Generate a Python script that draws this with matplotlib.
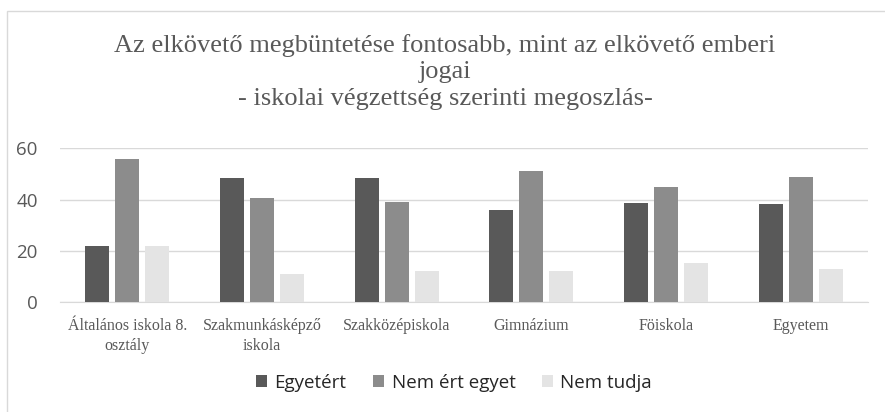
import numpy as np
import matplotlib.pyplot as plt
import matplotlib.patches as patches

categories = ['Általános iskola 8.\nosztály', 'Szakmunkásképző\niskola', 'Szakközépiskola',
              'Gimnázium', 'Föiskola', 'Egyetem']
series_names = ['Egyetért', 'Nem ért egyet', 'Nem tudja']
egyetert = [22, 48.3, 48.3, 36, 38.6, 38.2]
nem_ert = [55.7, 40.5, 39.2, 51.3, 45.0, 48.7]
nem_tudja = [22, 10.9, 12.3, 12.3, 15.3, 13.0]
colors = ['#595959', '#8c8c8c', '#e4e4e4']

fig = plt.figure(figsize=(8.85, 4.12), dpi=100)
W, H = 885, 412

# outer chart border (only top and left visible in crop)
fig.patches.append(patches.Rectangle((7 / W, -0.1), 2.0, 1 - 11 / H + 0.1,
                                     transform=fig.transFigure, fill=False,
                                     edgecolor='#d9d9d9', linewidth=1))

ax = fig.add_axes([60 / W, 1 - 302.3 / H, 808 / W, 154 / H * 1.0])
x = np.arange(len(categories))
width = 0.178
step = 0.222
for i, (vals, name) in enumerate(zip([egyetert, nem_ert, nem_tudja], series_names)):
    ax.bar(x + (i - 1) * step, vals, width, color=colors[i], label=name, zorder=3)

ax.set_ylim(0, 60)
ax.set_xlim(-0.5, len(categories) - 0.5)
ax.set_yticks([0, 20, 40, 60])
ax.yaxis.grid(True, color='#d9d9d9', linewidth=1, zorder=0)
ax.set_axisbelow(True)
for s in ['top', 'right', 'left']:
    ax.spines[s].set_visible(False)
ax.spines['bottom'].set_color('#d9d9d9')
ax.tick_params(axis='both', length=0)
ax.tick_params(axis='y', labelsize=13.5, labelcolor='#595959', pad=16)
for lbl in ax.get_yticklabels():
    lbl.set_family('Open Sans')
ax.set_xticks(x)
ax.set_xticklabels(categories, family='Liberation Serif', fontsize=11.5, color='#595959',
                   linespacing=1.35)
ax.tick_params(axis='x', pad=11)

fig.text(445 / W, 1 - 72 / H,
         'Az elkövető megbüntetése fontosabb, mint az elkövető emberi\njogai\n'
         '- iskolai végzettség szerinti megoszlás-',
         ha='center', va='center', family='Liberation Serif', fontsize=19,
         color='#595959', linespacing=1.28)

leg = ax.legend(loc='center', bbox_to_anchor=(454 / W, 1 - 383 / H),
                bbox_transform=fig.transFigure, ncol=3, frameon=False,
                prop={'family': 'Open Sans', 'size': 13.5}, handlelength=0.6,
                handleheight=0.6, handletextpad=0.4, columnspacing=1.4)
for t in leg.get_texts():
    t.set_color('#262626')

fig.savefig('out.png', dpi=100)
